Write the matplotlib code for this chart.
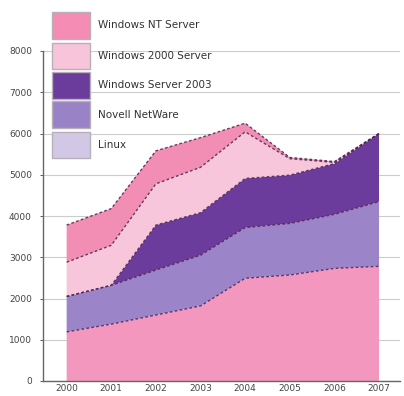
import matplotlib
matplotlib.use('Agg')
import matplotlib.pyplot as plt
import numpy as np
from matplotlib.patches import Rectangle

years = ['2000', '2001', '2002', '2003', '2004', '2005', '2006', '2007']

# layer values, bottom to top
linux   = [1190, 1380, 1600, 1820, 2490, 2570, 2730, 2780]
novell  = [860, 940, 1090, 1230, 1230, 1250, 1310, 1570]
win2003 = [0, 0, 1090, 1030, 1190, 1170, 1230, 1650]
win2000 = [830, 970, 1000, 1100, 1130, 400, 30, 0]
winnt   = [900, 890, 800, 720, 210, 30, 20, 0]

legend_labels = ['Windows NT Server', 'Windows 2000 Server', 'Windows Server 2003',
                 'Novell NetWare', 'Linux']
legend_colors = ['#f48cb4', '#f8c4d9', '#6c3c9c', '#9a82c6', '#d2c8e6']
fill_colors = ['#f497bf', '#9c84c8', '#6c3c9c', '#f8c6da', '#f28db3']

fig = plt.figure(figsize=(4.04, 3.96), dpi=100)
W, H = 404., 396.
ax = fig.add_axes([43/W, 1-381/H, 357/W, 330/H])

x = np.arange(len(years))
layers = [linux, novell, win2003, win2000, winnt]
base = np.zeros(len(years))
for vals, c in zip(layers, fill_colors):
    top = base + np.array(vals)
    ax.fill_between(x, base, top, facecolor=c, edgecolor='none', zorder=2)
    base = top
# dotted boundaries
base = np.zeros(len(years))
for vals in layers:
    top = base + np.array(vals)
    ax.plot(x, top, color='#4e2452', lw=1.0, ls=(0, (2, 1.6)), zorder=3, alpha=0.85)
    base = top

ax.set_xlim(-0.53, 7.47)
ax.set_ylim(0, 8000)
ax.set_yticks(range(0, 8001, 1000))
ax.set_xticks(x)
ax.set_xticklabels(years)
ax.yaxis.grid(True, color='#cccccc', lw=0.8, zorder=0)
ax.set_axisbelow(True)
for s in ['top', 'right']:
    ax.spines[s].set_visible(False)
for s in ['left', 'bottom']:
    ax.spines[s].set_color('#666666')
    ax.spines[s].set_linewidth(1.0)
ax.tick_params(axis='both', labelsize=6.5, colors='#444444', length=2, width=0.6)
ax.tick_params(axis='x', length=0, pad=2)
ax.tick_params(axis='y', pad=6)

# legend drawn in pixel positions of the reference
rows = [(12, 39), (43, 69), (72, 99), (101, 128), (132, 158)]
for (y0, y1), lab, c in zip(rows, legend_labels, legend_colors):
    fig.add_artist(Rectangle((52/W, 1-y1/H), 38/W, (y1-y0)/H, transform=fig.transFigure,
                             facecolor=c, edgecolor='#b8b0b8', lw=1.0, zorder=5))
    fig.text(98/W, 1-(y0+y1)/2/H, lab, fontsize=7.5, color='#333333', va='center',
             ha='left', zorder=6)

fig.savefig('out.png', dpi=100)
